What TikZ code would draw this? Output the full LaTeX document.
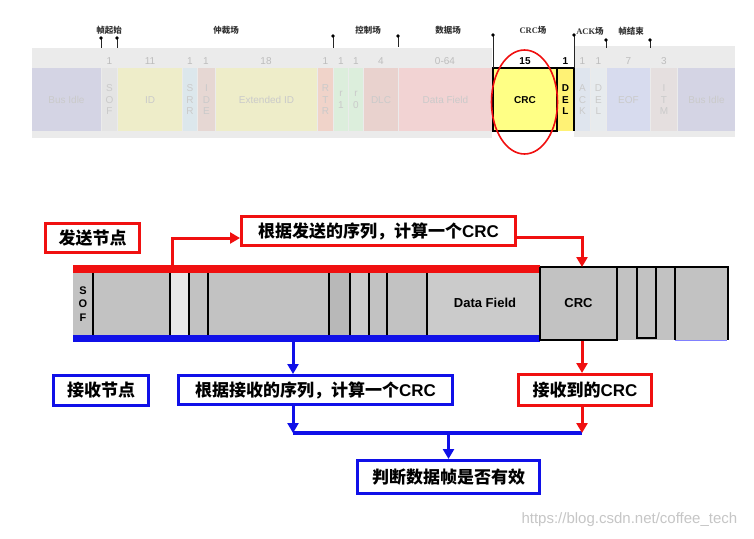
\documentclass[tikz,border=0pt]{standalone}
\usepackage{fontspec}
\setmainfont{Liberation Sans}
\newfontfamily\cjk{Noto Sans CJK SC}
\newfontfamily\serifx{Liberation Serif}
\usetikzlibrary{arrows.meta}
\definecolor{bandgray}{HTML}{EBEBEB}
\definecolor{fadetxt}{HTML}{CACACA}
\definecolor{numgray}{HTML}{BDBDBD}
\definecolor{cBus}{HTML}{D4D4E4}
\definecolor{cSof}{HTML}{E4E4E4}
\definecolor{cId}{HTML}{EEEDC9}
\definecolor{cSrr}{HTML}{DCE7EC}
\definecolor{cIde}{HTML}{E6D7D3}
\definecolor{cRtr}{HTML}{F0D3C9}
\definecolor{cR}{HTML}{DCEEDC}
\definecolor{cDlc}{HTML}{E9D2CE}
\definecolor{cData}{HTML}{F2D3D3}
\definecolor{cCrc}{HTML}{FFFF85}
\definecolor{cDel}{HTML}{FFF275}
\definecolor{cAck}{HTML}{DFE5EE}
\definecolor{cDel2}{HTML}{E7EBEE}
\definecolor{cEof}{HTML}{D7DBEE}
\definecolor{cItm}{HTML}{E5DFDF}
\definecolor{fgray}{HTML}{C2C2C2}
\definecolor{fgrayL}{HTML}{E8E8E8}
\definecolor{fgrayD}{HTML}{B8B8B8}
\definecolor{fgrayM}{HTML}{CBCBCB}
\definecolor{myred}{HTML}{F01010}
\definecolor{myblue}{HTML}{1010E8}
\definecolor{wm}{HTML}{C6C6C6}
\tikzset{
  redbox/.style={draw=myred, line width=3pt, fill=white, inner sep=0pt, font=\cjk\bfseries\fontsize{17}{19}\selectfont},
  bluebox/.style={draw=myblue, line width=3pt, fill=white, inner sep=0pt, font=\cjk\bfseries\fontsize{17}{19}\selectfont},
  redarr/.style={draw=myred, line width=3pt, -{Triangle[length=10pt,width=11pt]}},
  bluearr/.style={draw=myblue, line width=3pt, -{Triangle[length=10pt,width=11pt]}},
  divider/.style={line width=1.6pt, black},
  toplabel/.style={font=\cjk\bfseries\fontsize{8.5}{9}\selectfont, text=black!80},
  numlabel/.style={font=\fontsize{10}{11}\selectfont, text=numgray},
  fieldtxt/.style={font=\fontsize{10}{11.5}\selectfont, text=fadetxt, align=center},
  pin/.style={line width=1pt, black!85},
}
\begin{document}
\begin{tikzpicture}[x=1pt,y=-1pt]
\useasboundingbox (0,0) rectangle (754,538);
\fill[white] (0,0) rectangle (754,538);

% ---------- top CAN frame (faded) ----------
\fill[bandgray] (32,48) rectangle (492,138);
\fill[bandgray] (574,46) rectangle (735,137);
\foreach \xa/\xb/\col/\txt in {
  32/101/cBus/{Bus Idle},
  102/117/cSof/{S\\O\\F},
  118/182/cId/{ID},
  183/197/cSrr/{S\\R\\R},
  198/215/cIde/{I\\D\\E},
  216/317/cId/{Extended ID},
  318/333/cRtr/{R\\T\\R},
  334/348/cR/{r\\1},
  349/363/cR/{r\\0},
  364/398/cDlc/{DLC},
  399/492/cData/{Data Field},
  575/590/cAck/{A\\C\\K},
  591/606/cDel2/{D\\E\\L},
  607/650/cEof/{EOF},
  651/677/cItm/{I\\T\\M},
  678/735/cBus/{Bus Idle}}
{
  \fill[\col] (\xa,68) rectangle (\xb,131);
  \node[fieldtxt] at ({(\xa+\xb)/2},100) {\txt};
}
\draw[line width=1.5pt, fill=cCrc] (493,68) rectangle (557,131);
\fill[cDel] (558,68) rectangle (573,131);
\draw[line width=1.5pt] (557,68) -- (574,68) -- (574,131);
\node[font=\bfseries\fontsize{10}{11}\selectfont] (crctop) at (525,100) {CRC};
\node[font=\bfseries\fontsize{10}{11.5}\selectfont, align=center] (deltop) at (565.5,100) {D\\E\\L};

% numbers
\foreach \x/\n in {109.5/1,150/11,190/1,206/1,266/18,325.5/1,341/1,356/1,381/4,445/0-64,582.5/1,598.5/1,628.5/7,664/3}
  \node[numlabel] at (\x,61) {\n};
\node[font=\bfseries\fontsize{10}{11}\selectfont] at (525,61) {15};
\node[font=\bfseries\fontsize{10}{11}\selectfont] at (565.5,61) {1};

% pins
\foreach \x/\ya/\yb in {101/38/48,117/38/48,333/36/48,398/36/47,493/35/68,574/35/68,606/40/48,650/40/48}{
  \draw[pin] (\x,\ya) -- (\x,\yb);
  \fill[black] (\x,\ya) circle (1.9pt);
}
% top labels
\node[toplabel] at (109,30) {帧起始};
\node[toplabel] at (226,30) {仲裁场};
\node[toplabel] at (368,30) {控制场};
\node[toplabel] at (448,30) {数据场};
\node[toplabel] at (533,30) {{\serifx CRC}场};
\node[toplabel] at (590,31) {{\serifx ACK}场};
\node[toplabel] at (631,31) {帧结束};

\draw[myred, line width=1.6pt] (524.5,102) ellipse (33 and 52);

% ---------- bottom frame ----------
\fill[fgray] (73,273) rectangle (540,335);
\fill[fgrayL] (170,273) rectangle (189,335);
\fill[fgrayD] (329,273) rectangle (350,335);
\fill[fgrayM] (350,273) rectangle (369,335);
\fill[fgrayM] (427,273) rectangle (540,335);
\foreach \x in {93,170,189,208,329,350,369,387,427}
  \draw[divider] (\x,273) -- (\x,335);
\node[font=\bfseries\fontsize{11}{13.5}\selectfont, align=center] (sof) at (83,304) {S\\O\\F};
\node[font=\bfseries\fontsize{13}{14}\selectfont] (datafield) at (485,303) {Data Field};
\fill[myred] (73,265) rectangle (540,273);
\fill[myblue] (73,335) rectangle (540,342);

% right part
\fill[fgray] (540,267) rectangle (728,340);
\draw[line width=1.6pt] (540,267) -- (728,267) -- (728,340);
\draw[line width=1.6pt] (540,267) -- (540,340) -- (617,340) -- (617,267);
\draw[line width=1.6pt] (637,267) -- (637,338) -- (656,338) -- (656,267);
\draw[line width=1.6pt] (675,267) -- (675,340);
\draw[line width=1pt, blue!50] (675,340) -- (727,340);
\node[font=\bfseries\fontsize{13}{14}\selectfont] (crcbox) at (578.5,303) {CRC};
\coordinate (redbar) at (172,265);
\coordinate (bluebar) at (293,342);
\coordinate (crctopedge) at (582,267);
\coordinate (crcbottom) at (582,341);

% ---------- boxes ----------
\node[redbox, minimum width=94pt, minimum height=29pt] (sender) at (92.5,238) {发送节点};
\node[redbox, minimum width=274pt, minimum height=29pt] (sendcalc) at (378.5,231) {根据发送的序列，计算一个{\fontspec{Liberation Sans}\bfseries CRC}};
\node[bluebox, minimum width=95pt, minimum height=30pt] (receiver) at (101,390.5) {接收节点};
\node[bluebox, minimum width=274pt, minimum height=29pt] (recvcalc) at (315.5,390) {根据接收的序列，计算一个{\fontspec{Liberation Sans}\bfseries CRC}};
\node[redbox, minimum width=133pt, minimum height=31pt] (recvcrc) at (585,390) {接收到的{\fontspec{Liberation Sans}\bfseries CRC}};
\node[bluebox, minimum width=182pt, minimum height=33pt] (judge) at (448.5,477) {判断数据帧是否有效};

% ---------- connectors ----------
\draw[redarr] (redbar) |- ([yshift=-7pt]sendcalc.west);
\draw[redarr] ([yshift=-6pt]sendcalc.east) -| (crctopedge);
\draw[bluearr] (bluebar) -- (recvcalc.north -| bluebar);
\draw[redarr] (crcbottom) -- (recvcrc.north -| crcbottom);
\coordinate (joinL) at (293,433);
\coordinate (joinR) at (582,433);
\draw[myblue, line width=4pt] (joinL) -- (joinR);
\draw[bluearr] (recvcalc.south -| joinL) -- (joinL);
\draw[redarr] (recvcrc.south -| joinR) -- (joinR);
\draw[bluearr] (judge.north |- joinL) -- (judge.north);

\node[font=\fontsize{15}{16}\selectfont, text=wm, anchor=west] (wmark) at (518,520) {https://blog.csdn.net/coffee\_tech};
\end{tikzpicture}
\end{document}
